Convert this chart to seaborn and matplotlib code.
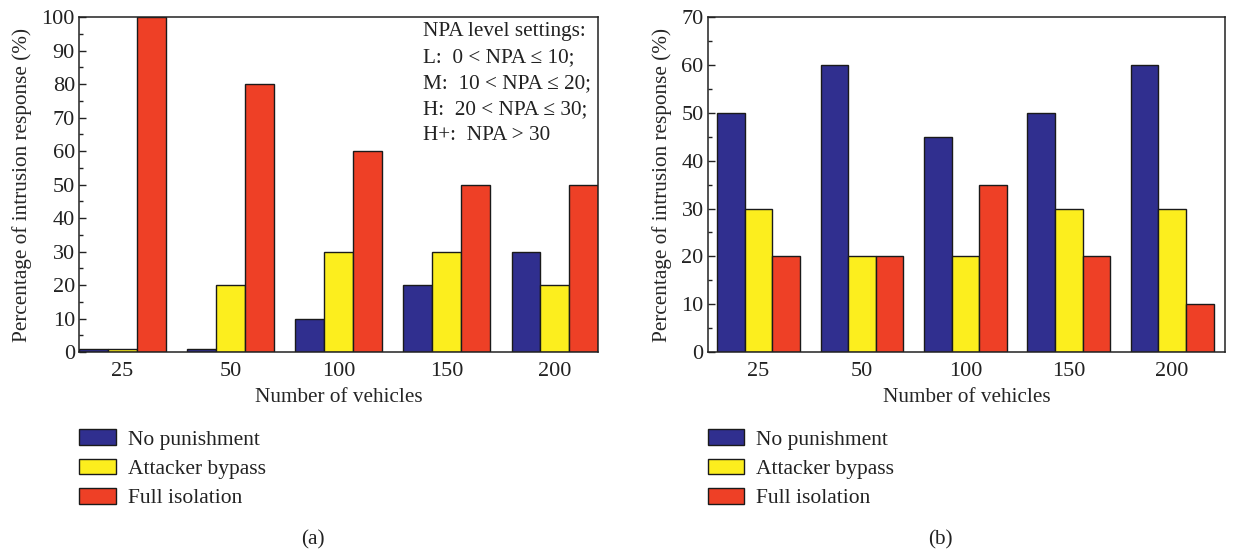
import matplotlib
matplotlib.use("Agg")
import matplotlib.pyplot as plt
from matplotlib.ticker import MultipleLocator
import seaborn as sns
import pandas as pd

vehicles = ["25", "50", "100", "150", "200"]
series = ["No punishment", "Attacker bypass", "Full isolation"]
a_no_punish = [1, 1, 10, 20, 30]
a_bypass = [1, 20, 30, 30, 20]
a_isolation = [100, 80, 60, 50, 50]
b_no_punish = [50, 60, 45, 50, 60]
b_bypass = [30, 20, 20, 30, 30]
b_isolation = [20, 20, 35, 20, 10]
colors = ["#302F8F", "#FCEE1E", "#EE4026"]
npa_text = ("NPA level settings:\nL:  0 < NPA \u2264 10;\nM:  10 < NPA \u2264 20;\n"
            "H:  20 < NPA \u2264 30;\nH+:  NPA > 30")


def long_df(vals):
    rows = []
    for s, v in zip(series, vals):
        for c, y in zip(vehicles, v):
            rows.append({"Vehicles": c, "Series": s, "Value": y})
    return pd.DataFrame(rows)


sns.set_theme(style="ticks")
plt.rcParams["font.family"] = ["Liberation Serif", "DejaVu Serif"]
plt.rcParams["axes.edgecolor"] = "#222222"
plt.rcParams["text.color"] = "#222222"
plt.rcParams["xtick.color"] = "#222222"
plt.rcParams["ytick.color"] = "#222222"

fig = plt.figure(figsize=(12.55, 5.51), dpi=100)
axa = fig.add_axes([0.063, 0.361, 0.4135, 0.608])
axb = fig.add_axes([0.564, 0.361, 0.412, 0.608])

panels = [
    (axa, [a_no_punish, a_bypass, a_isolation], 100, (-0.4, 4.4), "(a)"),
    (axb, [b_no_punish, b_bypass, b_isolation], 70, (-0.49, 4.51), "(b)"),
]
tick_fs = 16
lab_fs = 15.3
leg_fs = 15.5
for ax, vals, ymax, xl, tag in panels:
    df = long_df(vals)
    sns.barplot(data=df, x="Vehicles", y="Value", hue="Series", order=vehicles,
                hue_order=series, palette=colors, width=0.8, saturation=1,
                edgecolor="#1a1a1a", linewidth=1.0, ax=ax, legend=True)
    ax.set_ylim(0, ymax)
    ax.set_xlim(*xl)
    ax.yaxis.set_major_locator(MultipleLocator(10))
    ax.yaxis.set_minor_locator(MultipleLocator(5))
    ax.tick_params(axis="y", direction="in", length=5, width=1, labelsize=tick_fs, pad=3)
    ax.tick_params(axis="y", which="minor", direction="in", length=3, width=1)
    ax.tick_params(axis="x", length=0, labelsize=tick_fs, pad=7)
    for sp in ax.spines.values():
        sp.set_visible(True)
        sp.set_linewidth(1.1)
    ax.set_xlabel("Number of vehicles", fontsize=lab_fs, labelpad=5)
    ax.set_ylabel("Percentage of intrusion response (%)", fontsize=lab_fs, labelpad=7)
    h, l = ax.get_legend_handles_labels()
    ax.legend(h, l, loc="upper left", bbox_to_anchor=(0.0, -0.23), frameon=False,
              fontsize=leg_fs, handlelength=1.7, handleheight=0.75, labelspacing=0.42,
              handletextpad=0.55, borderaxespad=0, borderpad=0)
    ax.text(0.45, -0.56, tag, transform=ax.transAxes, ha="center", va="center",
            fontsize=lab_fs)

axa.text(0.662, 0.985, npa_text, transform=axa.transAxes, ha="left", va="top",
         fontsize=lab_fs, linespacing=1.5)

fig.savefig("out.png", dpi=100)
